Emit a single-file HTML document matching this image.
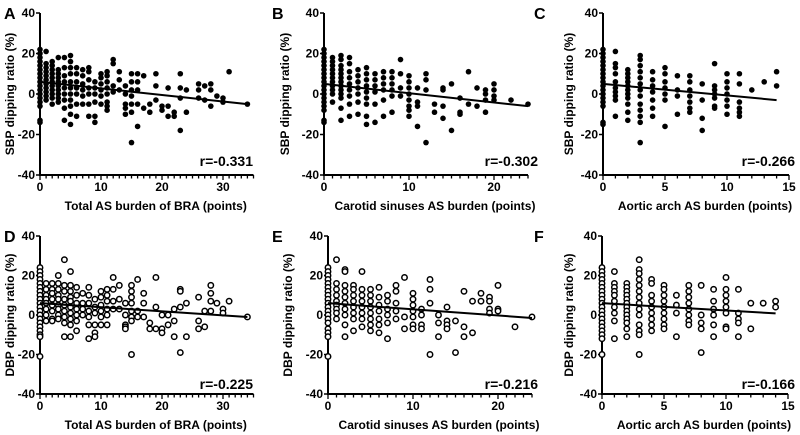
<!DOCTYPE html>
<html><head><meta charset="utf-8"><style>
html,body{margin:0;padding:0;background:#fff;}
svg{display:block;font-family:"Liberation Sans",Arial,sans-serif;font-weight:bold;}
</style></head><body>
<svg id="fig" width="800" height="435" viewBox="0 0 800 435" xmlns="http://www.w3.org/2000/svg"></svg>
<script>
// ---- data: each panel: x categories and y values per x ----
const aX=[0,1,2,3,4,5,6,7,8,9,10,11,12,13,14,15,16,17,18,19,20,21,22,23,24,26,27,28,29,30,31,34];
const aY=[[22,20,18,16,14,12,10,8,6,4,2,0,-2,-4,-6,-13,-14],[21,15,13,11,9,7,5,3,1,-1,-3],[16,14,12,10,8,6,4,2,0,-2,-5],[18,12,10,8,6,4,2,0,-2,-4],[18,13,9,6,3,0,-3,-7,-13],[19,16,13,10,6,3,0,-3,-6,-10,-15],[13,10,6,3,0,-5,-11],[12,9,5,2,-1,-5],[13,11,7,3,0,-5,-11],[6,3,0,-4,-11,-14],[10,8,5,2,-1,-5],[11,9,6,3,0,-4,-6,-8],[17,15,4,1],[11,7,2],[4,0,-5,-7,-10],[10,6,2,-1,-5,-9,-24],[10,6,2,-5,-16],[9,-7],[-5,-9],[10,4,-3],[-6,-8],[3,-6,-11],[-9,-11],[10,3,-2,-18],[2,-9],[5,2,-2],[4,-3],[5,2,-6],[-1],[-2,-4],[11],[-5]];
const bX=[0,1,2,3,4,5,6,7,8,9,10,11,12,13,14,15,16,17,18,19,20,22,24];
const bY=[[22,20,18,16,14,12,10,8,6,4,2,0,-2,-4,-6,-8,-13,-14],[18,16,14,12,10,8,6,4,2,0,-4],[19,17,14,12,10,8,6,4,2,0,-2,-7,-13],[18,15,11,8,5,2,-1,-5,-11],[12,9,6,3,0,-4,-10],[13,10,7,4,1,-2,-5,-11,-15],[10,7,4,1,-5,-14],[11,8,5,2,-3,-11],[11,8,5,2,-1,-9],[17,10,3,-1],[9,6,3,0,-3,-6,-8,-11],[3,-4,-6,-16],[10,7,2,-24],[-5,-9],[3,2,-6,-12],[5,-18],[-2,-9,-10],[11,-5],[3,-6],[2,0,-3,-9],[5,2,-1,-3],[-3],[-5]];
const cX=[0,1,2,3,4,5,6,7,8,9,10,11,12,13,14];
const cY=[[22,20,18,16,14,12,10,8,6,4,2,0,-2,-4,-6,-14,-15],[21,15,13,10,6,3,1,-1,-3,-11],[12,10,8,6,4,2,0,-2,-5,-9,-13],[19,17,14,11,8,5,2,-1,-5,-8,-11,-14,-24],[11,7,4,1,-3,-7,-11],[13,10,6,3,0,-3,-16],[9,2,-1,-10],[9,6,2,-1,-4,-7,-9],[5,-3,-12,-18],[15,4,2,0,-2,-6,-7],[10,6,3,0,-3,-6,-10],[10,5,-4,-7,-9,-11],[2],[6],[11,4]];
const dX=[0,1,2,3,4,5,6,7,8,9,10,11,12,13,14,15,16,17,18,19,20,21,22,23,24,26,27,28,29,30,31,34];
const dY=[[24,22,20,18,16,14,12,10,8,6,4,2,0,-2,-4,-6,-8,-10,-11,-21],[16,13,10,8,6,3,0,-3],[16,13,11,8,5,2,-2,-3],[20,16,13,10,8,5,3,0,-2],[28,15,12,8,5,2,-1,-4,-11],[22,15,12,9,7,4,1,-2,-5,-11],[14,10,6,3,0,-3,-8],[11,6,3,0],[14,10,6,2,-1,-5,-12],[8,4,1,-5,-9,-11],[12,9,5,2,-1,-5],[13,10,7,3,0,-5],[19,13,7,3],[15,8,3],[6,0,-5,-6,-7],[15,12,9,6,2,-1,-3,-20],[18,2,-1],[11,6,-1],[-4,-7],[19,4,-7],[0,-7,-9],[0,-5],[3,-3,-11],[13,12,4,-19],[6,-11],[9,-3,-7],[2,-6],[15,11,7,2],[6],[3,1],[7],[-1]];
const eX=[0,1,2,3,4,5,6,7,8,9,10,11,12,13,14,15,16,17,18,19,20,22,24];
const eY=[[24,22,20,18,16,14,12,10,8,6,4,2,0,-2,-4,-7,-9,-11,-21],[28,16,13,10,7,5,3,1,-2],[23,22,15,12,9,6,3,0,-5,-11],[15,13,10,7,4,1,-2,-8],[22,13,10,7,4,1,-2,-6],[13,10,7,4,1,-2,-5,-8],[14,9,5,2,-2,-5,-9],[10,7,3,0,-4,-12],[15,12,6,2,-2],[19,-1,-7],[11,8,5,2,-1,-5,-7],[3,0,-5,-7],[18,13,6,-20],[0,-4,-11],[4,-3,-5,-7],[-3,-19],[12,-6,-11],[7,-9],[11,7],[9,7,3,1],[15,3,2],[-6],[-1]];
const fX=[0,1,2,3,4,5,6,7,8,9,10,11,12,13,14];
const fY=[[24,22,20,18,16,14,12,10,8,6,4,2,0,-2,-4,-6,-8,-10,-12,-20],[22,16,14,12,10,7,4,1,-3,-12],[16,14,12,10,8,6,4,2,0,-2,-4,-7,-11],[28,23,21,18,15,12,9,6,3,0,-5,-8,-10,-20],[18,16,10,7,4,1,-2,-5,-8],[15,13,10,7,4,1,-2,-5,-7],[10,5,1,-11],[15,12,9,6,3,0,-3,-5],[15,0,-4,-7,-19],[13,7,3,0,-5,-11],[19,13,10,7,4,1,-6,-7],[13,1,-2,-4,-11],[6,-7],[6],[7,4]];
// regression line endpoints [x0,y0,x1,y1]
const aFit=[0,6,34,-5], bFit=[0,5,24,-6], cFit=[0,5,14,-3], dFit=[0,6,34,-1], eFit=[0,6,24,-1.5], fFit=[0,6,14,0.8];
const rLabels=["r=-0.331","r=-0.302","r=-0.266","r=-0.225","r=-0.216","r=-0.166"];
const yTicks=[40,20,0,-20,-40];

const NS="http://www.w3.org/2000/svg";
const svg=document.getElementById('fig');
function mk(tag,attrs,parent){const e=document.createElementNS(NS,tag);for(const k in attrs)e.setAttribute(k,attrs[k]);(parent||svg).appendChild(e);return e;}

const panels=[
 {id:'a',L:'A',xs:aX,ys:aY,fit:aFit,r:rLabels[0],ox:40,k:6.1,xmax:35,major:10,top:13,bot:175,ytitle:"SBP dipping ratio (%)",xtitle:"Total AS burden of BRA (points)",tx:14,lx:4,open:false},
 {id:'b',L:'B',xs:bX,ys:bY,fit:bFit,r:rLabels[1],ox:324,k:8.5,xmax:24,major:10,top:13,bot:175,ytitle:"SBP dipping ratio (%)",xtitle:"Carotid sinuses AS burden (points)",tx:289,lx:272,open:false},
 {id:'c',L:'C',xs:cX,ys:cY,fit:cFit,r:rLabels[2],ox:603,k:12.4,xmax:15,major:5,top:13,bot:175,ytitle:"SBP dipping ratio (%)",xtitle:"Aortic arch AS burden (points)",tx:573,lx:534,open:false},
 {id:'d',L:'D',xs:dX,ys:dY,fit:dFit,r:rLabels[3],ox:40,k:6.1,xmax:35,major:10,top:236,bot:394,ytitle:"DBP dipping ratio (%)",xtitle:"Total AS burden of BRA (points)",tx:14,lx:4,open:true},
 {id:'e',L:'E',xs:eX,ys:eY,fit:eFit,r:rLabels[4],ox:328,k:8.5,xmax:24,major:10,top:236,bot:394,ytitle:"DBP dipping ratio (%)",xtitle:"Carotid sinuses AS burden (points)",tx:292,lx:272,open:true},
 {id:'f',L:'F',xs:fX,ys:fY,fit:fFit,r:rLabels[5],ox:602,k:12.4,xmax:15,major:5,top:236,bot:394,ytitle:"DBP dipping ratio (%)",xtitle:"Aortic arch AS burden (points)",tx:573,lx:534,open:true}
];

panels.forEach(p=>{
 const g=mk('g',{});
 
 
 const sx=v=>p.ox+v*p.k;
 const sy=v=>p.top+(40-v)*(p.bot-p.top)/80;
 const xend=sx(p.xmax);
 const lt=mk('text',{x:p.lx,y:p.top+6,'font-size':16,fill:'#000'},g);lt.textContent=p.L;
 
 
 const ya=mk('line',{x1:p.ox,y1:p.top,x2:p.ox,y2:p.bot,stroke:'#000','stroke-width':2},g);
 
 
 const xa=mk('line',{x1:p.ox-1,y1:p.bot,x2:xend,y2:p.bot,stroke:'#000','stroke-width':2},g);
 
 
 yTicks.forEach(t=>{
  mk('line',{x1:p.ox-4,y1:sy(t),x2:p.ox,y2:sy(t),stroke:'#000','stroke-width':1.5},g);
  const tl=mk('text',{x:p.ox-5,y:sy(t)+4,'font-size':12,'text-anchor':'end',fill:'#000'},g);tl.textContent=t;
  
  
 });
 for(let v=0;v<=p.xmax;v++){
  const maj=v%p.major===0;
  mk('line',{x1:sx(v),y1:p.bot,x2:sx(v),y2:p.bot+(maj?5:3.5),stroke:'#000','stroke-width':1.3},g);
  if(maj){const tl=mk('text',{x:sx(v),y:p.bot+16,'font-size':12,'text-anchor':'middle',fill:'#000'},g);tl.textContent=v;
   
   }
 }
 const yt=mk('text',{x:p.tx,y:(p.top+p.bot)/2,'font-size':12,'text-anchor':'middle',transform:`rotate(-90 ${p.tx} ${(p.top+p.bot)/2})`,fill:'#000'},g);yt.textContent=p.ytitle;
 
 
 const xt=mk('text',{x:(p.ox+xend)/2+9,y:p.bot+35,'font-size':12,'text-anchor':'middle',fill:'#000'},g);xt.textContent=p.xtitle;
 
 
 p.xs.forEach((xv,i)=>{
  p.ys[i].forEach(yv=>{
   const c=mk('circle',{cx:sx(xv),cy:sy(yv),r:p.open?2.7:2.8,fill:p.open?'#fff':'#000',stroke:'#000','stroke-width':p.open?1.5:0},g);
   
   
  });
 });
 const f=p.fit;
 const fl=mk('line',{x1:sx(f[0]),y1:sy(f[1]),x2:sx(f[2]),y2:sy(f[3]),stroke:'#000','stroke-width':2},g);
 
 
 const rt=mk('text',{x:p.id==='c'||p.id==='f'?795:(p.id==='b'||p.id==='e'?538:253),y:p.top+153,'font-size':14,'text-anchor':'end',fill:'#000'},g);rt.textContent=p.r;
 
 
});
</script>
</body></html>
